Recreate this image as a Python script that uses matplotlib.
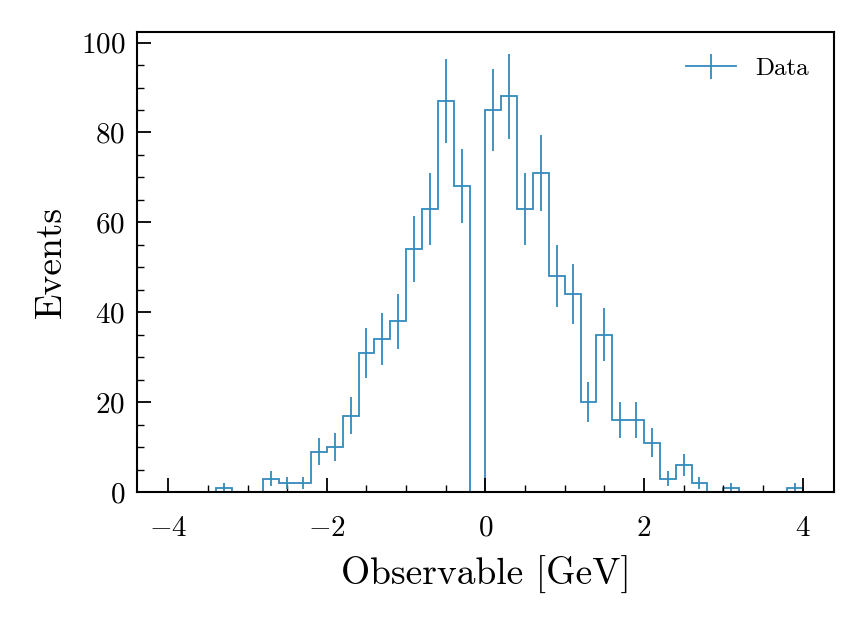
import numpy as np
import matplotlib
matplotlib.use("Agg")
import matplotlib.pyplot as plt
from matplotlib.ticker import MultipleLocator

plt.rcParams['font.family'] = 'serif'
plt.rcParams['font.serif'] = ['cmr10']
plt.rcParams['mathtext.fontset'] = 'cm'
plt.rcParams['axes.formatter.use_mathtext'] = True
plt.rcParams['axes.unicode_minus'] = True

# histogram contents, 40 bins from -4 to 4 GeV
bin_edges = np.linspace(-4, 4, 41)
counts = [0, 0, 0, 1, 0, 0, 3, 2, 2, 9,
          10, 17, 31, 34, 38, 54, 63, 87, 68, 0,
          85, 88, 63, 71, 48, 44, 20, 35, 16, 16,
          11, 3, 6, 2, 0, 1, 0, 0, 0, 1]

counts = np.array(counts, dtype=float)
errors = np.sqrt(counts)
centers = 0.5 * (bin_edges[1:] + bin_edges[:-1])

color = '#348ABD'

fig = plt.figure(figsize=(8.64, 6.24), dpi=100)
ax = fig.add_axes([0.158, 0.2115, 0.8076, 0.7365])

ax.stairs(counts, bin_edges, color=color, linewidth=1.3)
ax.errorbar(centers, counts, yerr=errors, fmt='none', ecolor=color, elinewidth=1.3)
# legend proxy (line + vertical bar)
ax.errorbar([], [], yerr=[], color=color, linewidth=1.3, label='Data')

ax.margins(x=0.05, y=0.05)
ax.autoscale_view()
ax.set_ylim(bottom=0)

ax.set_xlabel('Observable [GeV]', fontsize=27, labelpad=10)
ax.set_ylabel('Events', fontsize=27, labelpad=9)

ax.xaxis.set_major_locator(MultipleLocator(2))
ax.xaxis.set_minor_locator(MultipleLocator(0.5))
ax.yaxis.set_major_locator(MultipleLocator(20))
ax.yaxis.set_minor_locator(MultipleLocator(5))
ax.tick_params(which='both', direction='in', top=False, right=False, labelsize=21)
ax.tick_params(which='major', length=10, width=1.3)
ax.tick_params(which='minor', length=5, width=1.0)
ax.tick_params(axis='x', which='both', pad=17)
ax.tick_params(axis='y', which='both', pad=8)
for sp in ax.spines.values():
    sp.set_linewidth(1.5)

ax.legend(loc='upper right', frameon=False, fontsize=18, handlelength=2.0,
          borderaxespad=0.6)

fig.savefig('out.png', dpi=100)
